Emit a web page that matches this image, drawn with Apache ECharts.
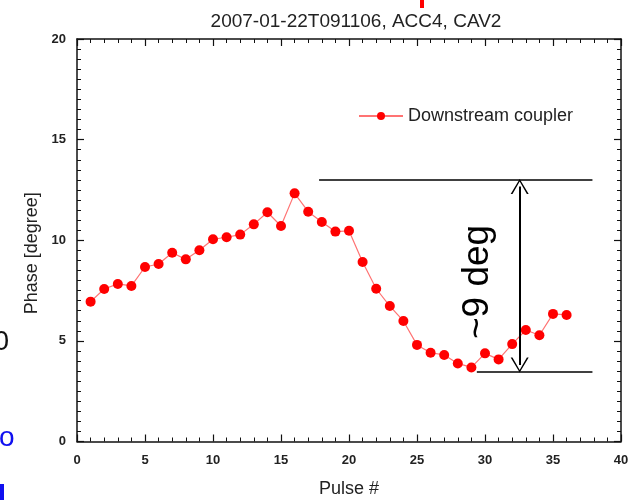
<!DOCTYPE html>
<html>
<head>
<meta charset="utf-8">
<script src="https://cdn.jsdelivr.net/npm/echarts@6/dist/echarts.min.js"></script>
<style>
html,body{margin:0;padding:0;background:#fff;}
#chart{width:628px;height:500px;}
</style>
</head>
<body>
<div id="chart"></div>
<script>
// ---- data ----
const titleText = '2007-01-22T091106, ACC4, CAV2';
const seriesName = 'Downstream coupler';
const pulses = [1,2,3,4,5,6,7,8,9,10,11,12,13,14,15,16,17,18,19,20,21,22,23,24,25,26,27,28,29,30,31,32,33,34,35,36];
const phase = [6.95,7.58,7.83,7.73,8.67,8.82,9.38,9.05,9.50,10.05,10.15,10.28,10.79,11.39,10.71,12.33,11.42,10.91,10.43,10.47,8.92,7.59,6.73,5.99,4.80,4.41,4.30,3.88,3.68,4.38,4.08,4.84,5.54,5.28,6.34,6.29];
const xTicks = [0,5,10,15,20,25,30,35,40];
const yTicks = [0,5,10,15,20];
// annotation (~9 deg span)
const spanTop = 13.0;
const spanBottom = 3.47;
const topLineX = [17.8, 37.9];
const bottomLineX = [29.4, 37.9];
const arrowX = 32.55;
const spanLabel = '~9 deg';
const spanLabelAt = [29.45, 7.93];

const xMin = xTicks[0], xMax = xTicks[xTicks.length-1], xStep = xTicks[1]-xTicks[0];
const yMin = yTicks[0], yMax = yTicks[yTicks.length-1], yStep = yTicks[1]-yTicks[0];

const FONT = '"Liberation Sans", Arial, sans-serif';
const AXC = '#111';
const chevron = 'path://M0,15 L9,0 L18,15 L16.2,15 L9,2.6 L1.8,15 Z';
const arrowInset = 0.33;

const chart = echarts.init(document.getElementById('chart'), null, {renderer:'canvas'});

const axisCommon = {
  type:'value',
  axisLine:{show:true, onZero:false, lineStyle:{color:AXC, width:1.5}},
  axisTick:{show:true, inside:true, length:7, lineStyle:{color:AXC, width:1.2}},
  minorTick:{show:true, length:4, lineStyle:{color:AXC, width:1}},
  splitLine:{show:false}
};

chart.setOption({
  animation:false,
  backgroundColor:'#fff',
  title:{
    text:titleText, left:351, top:7, textAlign:'center',
    textStyle:{fontFamily:FONT, fontSize:19, fontWeight:'normal', color:'#222'}
  },
  legend:{
    left:353, top:102, itemWidth:44, itemHeight:10, itemGap:6,
    textStyle:{fontFamily:FONT, fontSize:18, color:'#222'},
    data:[seriesName]
  },
  grid:{left:77, right:7, top:39, bottom:58.5, containLabel:false, outerBoundsMode:'none'},
  xAxis:[
    Object.assign({}, axisCommon, {
      position:'bottom', min:xMin, max:xMax, interval:xStep,
      minorTick:Object.assign({}, axisCommon.minorTick, {splitNumber:5}),
      name:'Pulse #', nameLocation:'middle', nameGap:39,
      nameTextStyle:{fontFamily:FONT, fontSize:18, color:'#222'},
      axisLabel:{margin:12, fontFamily:FONT, fontSize:13, fontWeight:'bold', color:'#222'}
    }),
    Object.assign({}, axisCommon, {
      position:'top', min:xMin, max:xMax, interval:xStep,
      minorTick:Object.assign({}, axisCommon.minorTick, {splitNumber:5}),
      axisLabel:{show:false}
    })
  ],
  yAxis:[
    Object.assign({}, axisCommon, {
      position:'left', min:yMin, max:yMax, interval:yStep,
      minorTick:Object.assign({}, axisCommon.minorTick, {splitNumber:10}),
      name:'Phase [degree]', nameLocation:'middle', nameGap:36,
      nameTextStyle:{fontFamily:FONT, fontSize:18, color:'#222', padding:[0,26,0,0]},
      axisLabel:{margin:11, fontFamily:FONT, fontSize:13, fontWeight:'bold', color:'#222'}
    }),
    Object.assign({}, axisCommon, {
      position:'right', min:yMin, max:yMax, interval:yStep,
      minorTick:Object.assign({}, axisCommon.minorTick, {splitNumber:10}),
      axisLabel:{show:false}
    })
  ],
  series:[{
    name:seriesName,
    type:'line',
    data:pulses.map((p,i)=>[p, phase[i]]),
    symbol:'circle', symbolSize:10,
    lineStyle:{color:'#ff7373', width:1.2},
    itemStyle:{color:'#ff0000', borderWidth:0},
    emphasis:{disabled:true},
    markLine:{
      silent:true, animation:false,
      symbol:['none','none'],
      label:{show:false},
      lineStyle:{color:'#000', width:1.5, type:'solid'},
      data:[
        [{coord:[topLineX[0], spanTop]}, {coord:[topLineX[1], spanTop]}],
        [{coord:[bottomLineX[0], spanBottom]}, {coord:[bottomLineX[1], spanBottom]}],
        [{coord:[arrowX, spanTop - arrowInset], symbol:chevron, symbolSize:[18,15], lineStyle:{width:2}},
         {coord:[arrowX, spanBottom + arrowInset], symbol:chevron, symbolSize:[18,15]}]
      ]
    }
  }]
});

const lp = chart.convertToPixel({gridIndex:0}, spanLabelAt);
chart.setOption({
  graphic:[
    {type:'text', x:lp[0], y:lp[1], rotation:Math.PI/2,
     style:{text:spanLabel, fontFamily:FONT, fontSize:37, fill:'#000', align:'center', verticalAlign:'middle'}},
    {type:'text', x:9, y:342, style:{text:'0', fontFamily:FONT, fontSize:28, fill:'#111', align:'right', verticalAlign:'middle'}},
    {type:'text', x:-1, y:438, style:{text:'o', fontFamily:FONT, fontSize:28, fill:'#1010f0', align:'left', verticalAlign:'middle'}},
    {type:'rect', shape:{x:0, y:484, width:4, height:16}, style:{fill:'#1010f0'}},
    {type:'rect', shape:{x:420, y:0, width:4, height:8}, style:{fill:'#ff0000'}}
  ]
});
</script>
</body>
</html>
